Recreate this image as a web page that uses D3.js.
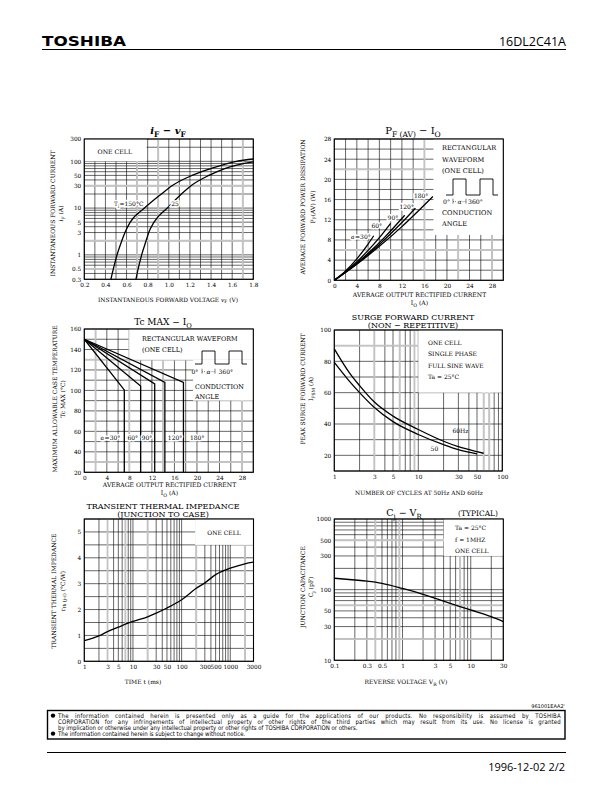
<!DOCTYPE html>
<html><head><meta charset="utf-8">
<script src="https://cdn.jsdelivr.net/npm/d3@7"></script>
<style>body{margin:0;background:#fff;}</style>
</head><body>
<script>
// ---------------- DATA ----------------
// Chart 1: iF - vF
const c1XTicks = [0.2, 0.4, 0.6, 0.8, 1.0, 1.2, 1.4, 1.6, 1.8];
const c1XLabels = ["0.2", "0.4", "0.6", "0.8", "1.0", "1.2", "1.4", "1.6", "1.8"];
const c1YTicks = [0.3, 0.5, 1, 3, 5, 10, 30, 50, 100, 300];
const c1V150 = [0.452, 0.475, 0.51, 0.555, 0.585, 0.635, 0.77, 0.93, 1.03, 1.22, 1.40, 1.64, 1.8];
const c1I150 = [0.3, 0.5, 1, 2, 3, 5, 10, 20, 30, 50, 70, 100, 112];
const c1V25 = [0.689, 0.71, 0.743, 0.785, 0.81, 0.86, 0.985, 1.12, 1.21, 1.38, 1.53, 1.8];
const c1I25 = [0.3, 0.5, 1, 2, 3, 5, 10, 20, 30, 50, 70, 97];

// Chart 2: PF(AV) - IO
const c2XTicks = [0, 4, 8, 12, 16, 20, 24, 28];
const c2YTicks = [0, 4, 8, 12, 16, 20, 24, 28];
const c2Labels = ["30°", "60°", "90°", "120°", "180°"];
const c2I30 = [0, 2, 4, 6, 7.0];
const c2P30 = [0, 1.86, 4.26, 7.18, 8.83];
const c2I60 = [0, 2, 4, 6, 8, 10];
const c2P60 = [0, 1.68, 3.66, 5.92, 8.46, 11.3];
const c2I90 = [0, 3, 6, 9, 12.5];
const c2P90 = [0, 2.48, 5.34, 8.61, 12.9];
const c2I120 = [0, 4, 8, 12, 14.4];
const c2P120 = [0, 3.29, 7.10, 11.45, 14.3];
const c2I180 = [0, 4, 8, 12, 17.5];
const c2P180 = [0, 3.18, 6.73, 10.64, 16.6];

// Chart 3: Tc MAX - IO
const c3XTicks = [0, 4, 8, 12, 16, 20, 24, 28];
const c3YTicks = [20, 40, 60, 80, 100, 120, 140, 160];
const c3Labels = ["30°", "60°", "90°", "120°", "180°"];
const c3I30 = [0, 7.1, 7.1];     const c3T30 = [150, 100.5, 20];
const c3I60 = [0, 10.0, 10.0];   const c3T60 = [150, 104.3, 20];
const c3I90 = [0, 12.5, 12.5];   const c3T90 = [150, 106.3, 20];
const c3I120 = [0, 14.3, 14.3];  const c3T120 = [150, 107.9, 20];
const c3I180 = [0, 17.6, 17.6];  const c3T180 = [150, 107.9, 20];

// Chart 4: surge forward current
const c4XTicks = [1, 3, 5, 10, 30, 50, 100];
const c4YTicks = [20, 40, 60, 80, 100];
const c4N60 = [1, 1.5, 2, 3, 5, 10, 20, 30, 50, 60];
const c4I60 = [88, 73, 64.5, 54, 45, 36.5, 29, 25.5, 22.3, 21.3];
const c4N50 = [1, 1.5, 2, 3, 5, 10, 20, 30, 50];
const c4I50 = [79.3, 67.5, 60, 50.5, 41.5, 33.3, 26.8, 23.6, 20.9];

// Chart 5: transient thermal impedance
const c5XTicks = [1, 3, 5, 10, 30, 50, 100, 300, 500, 1000, 3000];
const c5YTicks = [0, 1, 2, 3, 4, 5];
const c5T = [1, 2, 3, 5, 10, 20, 30, 50, 100, 200, 300, 500, 1000, 2000, 3000];
const c5R = [0.8, 0.98, 1.15, 1.32, 1.54, 1.72, 1.86, 2.06, 2.38, 2.82, 3.03, 3.35, 3.6, 3.77, 3.83];

// Chart 6: Cj - VR
const c6XTicks = [0.1, 0.3, 0.5, 1, 3, 5, 10, 30];
const c6YTicks = [10, 30, 50, 100, 300, 500, 1000];
const c6V = [0.1, 0.2, 0.3, 0.5, 1, 2, 3, 5, 10, 20, 30];
const c6C = [145, 137, 132, 123, 104, 86, 75.4, 64, 51.6, 41.5, 35.3];

// ---------------- DRAWING ----------------
const SERIF = "'DejaVu Serif','Liberation Serif',serif";
const SANS = "'Open Sans','DejaVu Sans',sans-serif";
const svg = d3.select("body").append("svg").attr("width", 612).attr("height", 792).style("display", "block");
svg.append("rect").attr("width", 612).attr("height", 792).attr("fill", "#fff");

function rich(parent, x, y, parts, size, anchor, family) {
  const t = parent.append("text").attr("x", x).attr("y", y)
    .attr("font-family", family || SERIF).attr("font-size", size)
    .attr("text-anchor", anchor || "start").attr("fill", "#000");
  let shifted = 0;
  parts.forEach(p => {
    const s = typeof p === "string" ? p : p[0];
    const m = typeof p === "string" ? "" : p[1];
    const ts = t.append("tspan").text(s);
    const sub = m.includes("s");
    const target = sub ? size * 0.3 : 0;
    if (target !== shifted) { ts.attr("dy", target - shifted); shifted = target; }
    if (sub) ts.attr("font-size", size * 0.75);
    if (m.includes("i")) ts.attr("font-style", "italic");
  });
  return t;
}
function vtext(cx, cy, parts, size) {
  const g = svg.append("g").attr("transform", `translate(${cx},${cy}) rotate(-90)`);
  return rich(g, 0, 0, parts, size, "middle");
}
function halo(t) { return t.attr("stroke", "#fff").attr("stroke-width", 3).attr("paint-order", "stroke"); }

function panel(c) {
  const x = (c.xlog ? d3.scaleLog() : d3.scaleLinear()).domain(c.xd).range([c.l, c.r]);
  const y = (c.ylog ? d3.scaleLog() : d3.scaleLinear()).domain(c.yd).range([c.b, c.t]);
  const g = svg.append("g");
  const vline = (sel, w, col) => sel.attr("x1", d => x(d)).attr("x2", d => x(d)).attr("y1", c.t).attr("y2", c.b).attr("stroke", col).attr("stroke-width", w);
  const hline = (sel, w, col) => sel.attr("y1", d => y(d)).attr("y2", d => y(d)).attr("x1", c.l).attr("x2", c.r).attr("stroke", col).attr("stroke-width", w);
  g.append("g").selectAll("line").data(c.xgrid).join("line").call(vline, 0.6, "#000");
  g.append("g").selectAll("line").data(c.ygrid).join("line").call(hline, 0.6, "#000");
  g.append("g").selectAll("line").data(c.xgray || []).join("line").call(vline, 1.8, "#c4c4c4");
  g.append("g").selectAll("line").data(c.ygray || []).join("line").call(hline, 1.8, "#c4c4c4");
  (c.boxes || []).forEach(bx => g.append("rect")
    .attr("x", x(bx[0])).attr("y", y(bx[3]))
    .attr("width", x(bx[1]) - x(bx[0])).attr("height", y(bx[2]) - y(bx[3])).attr("fill", "#fff"));
  g.append("rect").attr("x", c.l).attr("y", c.t).attr("width", c.r - c.l).attr("height", c.b - c.t)
    .attr("fill", "none").attr("stroke", "#000").attr("stroke-width", 1.1);
  const xa = g.append("g").attr("transform", `translate(0,${c.b})`)
    .call(d3.axisBottom(x).tickValues(c.xticks).tickSize(0).tickPadding(c.xpad ?? 3)
      .tickFormat((d, i) => c.xlabels ? c.xlabels[i] : String(d)));
  xa.select(".domain").remove();
  xa.selectAll("text").attr("font-family", SERIF).attr("font-size", 5.8).attr("fill", "#000");
  const ya = g.append("g").attr("transform", `translate(${c.l},0)`)
    .call(d3.axisLeft(y).tickValues(c.yticks).tickSize(0).tickPadding(c.ypad ?? 3)
      .tickFormat(d => String(d)));
  ya.select(".domain").remove();
  ya.selectAll("text").attr("font-family", SERIF).attr("font-size", 5.8).attr("fill", "#000");
  return { x, y, g };
}
function curve(p, xs, ys, type) {
  return p.g.append("path").datum(xs.map((v, i) => [v, ys[i]]))
    .attr("d", d3.line().x(d => p.x(d[0])).y(d => p.y(d[1])).curve(type || d3.curveMonotoneX))
    .attr("fill", "none").attr("stroke", "#000").attr("stroke-width", 1.3);
}
function waveform(g, x0, yb, h) {
  const pts = [[0, 0], [7, 0], [7, -h], [20, -h], [20, 0], [34, 0], [34, -h], [47, -h], [47, 0], [52, 0]];
  g.append("path").attr("d", d3.line()(pts.map(p => [x0 + p[0], yb + p[1]])))
    .attr("fill", "none").attr("stroke", "#000").attr("stroke-width", 0.9);
  return [x0 + 7, x0 + 20];
}
function alphaMark(g, xa, xb, yb, size) {
  const xm = (xa + xb) / 2;
  rich(g, xm, yb, [["α", "i"]], size, "middle");
  const yl = yb - size * 0.3;
  g.append("line").attr("x1", xa).attr("x2", xm - 3).attr("y1", yl).attr("y2", yl).attr("stroke", "#000").attr("stroke-width", 0.5).attr("stroke-dasharray", "1,1");
  g.append("line").attr("x1", xm + 3).attr("x2", xb).attr("y1", yl).attr("y2", yl).attr("stroke", "#000").attr("stroke-width", 0.5).attr("stroke-dasharray", "1,1");
  g.append("line").attr("x1", xa).attr("x2", xa).attr("y1", yl - 3).attr("y2", yl + 2).attr("stroke", "#000").attr("stroke-width", 0.5);
  g.append("line").attr("x1", xb).attr("x2", xb).attr("y1", yl - 3).attr("y2", yl + 2).attr("stroke", "#000").attr("stroke-width", 0.5);
}

// ---------- Header ----------
svg.append("text").attr("x", 42).attr("y", 46).attr("font-family", "'DejaVu Sans',sans-serif")
  .attr("font-weight", "bold").attr("font-size", 14).attr("textLength", 84).attr("lengthAdjust", "spacingAndGlyphs").text("TOSHIBA");
svg.append("text").attr("x", 566).attr("y", 46).attr("font-family", SANS).attr("font-size", 12.5)
  .attr("text-anchor", "end").text("16DL2C41A");
svg.append("line").attr("x1", 42).attr("x2", 566).attr("y1", 49.5).attr("y2", 49.5).attr("stroke", "#000").attr("stroke-width", 1);

// ---------- Chart 1 ----------
{
  const p = panel({
    l: 84.3, r: 253.3, t: 139, b: 279.3, xd: [0.2, 1.8], yd: [0.3, 300], ylog: true,
    xgrid: d3.range(2, 18.5, 1).map(v => v / 10),
    ygrid: d3.scaleLog().domain([0.3, 300]).ticks(),
    xgray: [0.7, 0.9, 1.7], ygray: [0.5, 2, 30],
    boxes: [[0.2, 0.79, 100, 300]],
    xticks: c1XTicks, xlabels: c1XLabels, yticks: c1YTicks, xpad: 3.5
  });
  curve(p, c1V150, c1I150);
  curve(p, c1V25, c1I25);
  rich(p.g, p.x(0.2) + 30.5, 154, ["ONE CELL"], 6.2, "middle");
  halo(rich(p.g, p.x(c1V150[6]) - 1, p.y(10) - 2.5, ["T", ["j", "s"], "=150°C"], 6, "end"));
  halo(rich(p.g, p.x(c1V25[6]) + 4, p.y(10) - 2.5, ["25"], 6, "start"));
  rich(svg, 168, 134, [["i", "i"], ["F", "s"], "  −  ", ["v", "i"], ["F", "s"]], 10, "middle").attr("font-weight", "bold");
  rich(svg, 168, 301.5, ["INSTANTANEOUS FORWARD VOLTAGE   ", ["v", "i"], ["F", "s"], "   (V)"], 5.9, "middle");
  vtext(54.5, 213.5, ["INSTANTANEOUS FORWARD CURRENT"], 6);
  vtext(63, 213.5, [["i", "i"], ["F", "s"], "   (A)"], 6);
}

// ---------- Chart 2 ----------
{
  const p = panel({
    l: 334.3, r: 503.3, t: 139, b: 280.3, xd: [0, 30], yd: [0, 28],
    xgrid: d3.range(0, 30.1, 2), ygrid: d3.range(0, 28.1, 2),
    xgray: [16, 22, 28], ygray: [22, 6],
    boxes: [[17.6, 30, 9, 28]],
    xticks: c2XTicks, yticks: c2YTicks, xpad: 4
  });
  const Is = [c2I30, c2I60, c2I90, c2I120, c2I180], Ps = [c2P30, c2P60, c2P90, c2P120, c2P180];
  Is.forEach((xs, k) => curve(p, xs, Ps[k]));
  const off = [[-3, 3], [-8.5, 5], [-6.5, 4.3], [-1.5, 1.3], [-4.5, 1.7]];
  Is.forEach((xs, k) => {
    const ex = p.x(xs[xs.length - 1]), ey = p.y(Ps[k][Ps[k].length - 1]);
    const parts = k === 0 ? [["α", "i"], "=" + c2Labels[k]] : [c2Labels[k]];
    halo(rich(p.g, ex + off[k][0], ey + off[k][1], parts, 6, "end"));
  });
  const lx = 442;
  rich(p.g, lx, 150, ["RECTANGULAR"], 6.6);
  rich(p.g, lx, 161.5, ["WAVEFORM"], 6.6);
  rich(p.g, lx, 173, ["(ONE CELL)"], 6.6);
  const [xa, xb] = waveform(p.g, 446, 195, 16);
  rich(p.g, 443, 203.5, ["0°"], 6.2);
  alphaMark(p.g, xa, xb, 203.5, 6.2);
  rich(p.g, 468, 203.5, ["360°"], 6.2);
  rich(p.g, lx, 214.5, ["CONDUCTION"], 6.6);
  rich(p.g, lx, 225.5, ["ANGLE"], 6.6);
  rich(svg, 413, 134, ["P", ["F (AV)", "s"], "  −  I", ["O", "s"]], 10, "middle");
  rich(svg, 419.5, 296.5, ["AVERAGE OUTPUT RECTIFIED CURRENT"], 6.1, "middle");
  rich(svg, 419.5, 305, ["I", ["O", "s"], "   (A)"], 6.1, "middle");
  vtext(305, 207, ["AVERAGE FORWARD POWER DISSIPATION"], 6);
  vtext(314.5, 207, ["P", ["F", "s"], "(AV)    (W)"], 6);
}

// ---------- Chart 3 ----------
{
  const p = panel({
    l: 84.3, r: 253.3, t: 329, b: 472.3, xd: [0, 30], yd: [20, 160],
    xgrid: d3.range(0, 30.1, 2), ygrid: d3.range(20, 160.1, 10),
    xgray: [2, 8, 14, 28], ygray: [130, 30],
    boxes: [[8, 30, 130, 160], [19.3, 30, 90, 130]],
    xticks: c3XTicks, yticks: c3YTicks, xpad: 4
  });
  const Is = [c3I30, c3I60, c3I90, c3I120, c3I180], Ts = [c3T30, c3T60, c3T90, c3T120, c3T180];
  Is.forEach((xs, k) => curve(p, xs, Ts[k], d3.curveLinear));
  const off = [[-4, "end"], [-2.5, "end"], [-2.5, "end"], [3, "start"], [6.5, "start"]];
  Is.forEach((xs, k) => {
    const parts = k === 0 ? [["α", "i"], "=" + c3Labels[k]] : [c3Labels[k]];
    halo(rich(p.g, p.x(xs[1]) + off[k][0], 439.5, parts, 6, off[k][1]));
  });
  rich(p.g, 142, 340.5, ["RECTANGULAR WAVEFORM"], 6.4);
  rich(p.g, 142, 352, ["(ONE CELL)"], 6.4);
  const [xa, xb] = waveform(p.g, 195, 364, 13);
  rich(p.g, 191.5, 373.5, ["0°"], 6);
  alphaMark(p.g, xa, xb, 373.5, 6);
  rich(p.g, 218.5, 373.5, ["360°"], 6);
  rich(p.g, 195, 388.5, ["CONDUCTION"], 6.4);
  rich(p.g, 195, 398.5, ["ANGLE"], 6.4);
  rich(svg, 163, 325, ["Tc MAX  −  I", ["O", "s"]], 9, "middle");
  rich(svg, 169.5, 486.5, ["AVERAGE OUTPUT RECTIFIED CURRENT"], 6.1, "middle");
  rich(svg, 169.5, 495, ["I", ["O", "s"], "   (A)"], 6.1, "middle");
  vtext(57, 399, ["MAXIMUM ALLOWABLE CASE TEMPERATURE"], 6);
  vtext(65, 399, ["Tc MAX   (°C)"], 6);
}

// ---------- Chart 4 ----------
{
  const p = panel({
    l: 334.3, r: 502.3, t: 330, b: 471, xd: [1, 100], xlog: true, yd: [10, 100],
    xgrid: d3.scaleLog().domain([1, 100]).ticks(), ygrid: d3.range(10, 100.1, 10),
    xgray: [3, 6, 9, 60, 70], ygray: [90],
    boxes: [[10, 100, 60, 100]],
    xticks: c4XTicks, yticks: c4YTicks, xpad: 3.5
  });
  curve(p, c4N60, c4I60);
  curve(p, c4N50, c4I50);
  rich(p.g, 428, 344.5, ["ONE CELL"], 6);
  rich(p.g, 428, 356, ["SINGLE PHASE"], 6);
  rich(p.g, 428, 368, ["FULL SINE WAVE"], 6);
  rich(p.g, 428, 379, ["Ta = 25°C"], 6);
  rich(p.g, p.x(30) - 6, 433, ["60Hz"], 6);
  rich(p.g, p.x(14), 450.5, ["50"], 6);
  rich(svg, 413, 320, ["SURGE FORWARD CURRENT"], 8, "middle");
  rich(svg, 413, 328, ["(NON  −  REPETITIVE)"], 8, "middle");
  rich(svg, 419, 495, ["NUMBER OF CYCLES AT 50Hz AND 60Hz"], 5.9, "middle");
  vtext(305, 389, ["PEAK SURGE FORWARD CURRENT"], 6);
  vtext(313, 389, ["I", ["FSM", "s"], "   (A)"], 6);
}

// ---------- Chart 5 ----------
{
  const p = panel({
    l: 84.3, r: 253.5, t: 519, b: 661.3, xd: [1, 3000], xlog: true, yd: [0, 5.5],
    xgrid: d3.scaleLog().domain([1, 3000]).ticks(), ygrid: d3.range(0, 5.51, 0.5),
    xgray: [3, 7, 20, 200, 2000],
    boxes: [[190, 3000, 4.5, 5.5]],
    xticks: c5XTicks, yticks: c5YTicks, xpad: 3.5
  });
  curve(p, c5T, c5R);
  rich(p.g, 224, 534.5, ["ONE CELL"], 6, "middle");
  rich(svg, 163, 509, ["TRANSIENT THERMAL IMPEDANCE"], 8, "middle");
  rich(svg, 163, 517, ["(JUNCTION  TO  CASE)"], 8, "middle");
  rich(svg, 143, 684, ["TIME   t    (ms)"], 6, "middle");
  vtext(56, 591, ["TRANSIENT THERMAL IMPEDANCE"], 6);
  vtext(64.5, 591, ["r", ["th (j-c)", "s"], "   (°C/W)"], 6);
}

// ---------- Chart 6 ----------
{
  const p = panel({
    l: 334.3, r: 503.3, t: 519, b: 660.3, xd: [0.1, 30], xlog: true, yd: [10, 1000], ylog: true,
    xgrid: d3.scaleLog().domain([0.1, 30]).ticks(), ygrid: d3.scaleLog().domain([10, 1000]).ticks(),
    xgray: [0.4, 0.9, 7], ygray: [500, 60, 20],
    boxes: [[4, 30, 300, 1000]],
    xticks: c6XTicks, yticks: c6YTicks, xpad: 3.5
  });
  curve(p, c6V, c6C);
  rich(p.g, 455, 529.5, ["Ta = 25°C"], 6);
  rich(p.g, 455, 541.5, ["f = 1MHZ"], 6);
  rich(p.g, 455, 552.5, ["ONE CELL"], 6);
  rich(svg, 404, 516, ["C", ["j", "s"], "  −  V", ["R", "s"]], 9.5, "middle");
  rich(svg, 478, 516, ["(TYPICAL)"], 7.5, "middle");
  rich(svg, 406, 684, ["REVERSE VOLTAGE   V", ["R", "s"], "   (V)"], 6, "middle");
  vtext(305, 587, ["JUNCTION CAPACITANCE"], 6);
  vtext(313, 587, ["C", ["j", "s"], "   (pF)"], 6);
}

// ---------- Footer ----------
{
  const F = "'DejaVu Sans','Liberation Sans',sans-serif";
  const FS = 6.3;
  svg.append("text").attr("x", 565).attr("y", 708).attr("font-family", F).attr("font-size", 5)
    .attr("text-anchor", "end").text("961001EAA2'");
  svg.append("rect").attr("x", 47.5).attr("y", 710.5).attr("width", 517.5).attr("height", 28.5)
    .attr("fill", "none").attr("stroke", "#000").attr("stroke-width", 1.4);
  const lines = [
    ["The information contained herein is presented only as a guide for the applications of our products. No responsibility is assumed by TOSHIBA", true, true],
    ["CORPORATION for any infringements of intellectual property or other rights of the third parties which may result from its use. No license is granted", true, false],
    ["by implication or otherwise under any intellectual property or other rights of TOSHIBA CORPORATION or others.", false, false],
    ["The information contained herein is subject to change without notice.", false, true]
  ];
  // horizontal compression so the unjustified third line spans its width in the reference
  const probe = svg.append("text").attr("font-family", F).attr("font-size", FS).text(lines[2][0]);
  const sx = 300 / probe.node().getComputedTextLength();
  probe.remove();
  const fg = svg.append("g").attr("transform", `translate(58,0) scale(${sx},1)`);
  lines.forEach((ln, i) => {
    const yb = 717.6 + i * 6;
    const t = fg.append("text").attr("x", 0).attr("y", yb).attr("font-family", F).attr("font-size", FS).text(ln[0]);
    if (ln[1]) {
      const w = t.node().getComputedTextLength();
      const target = 503 / sx;
      if (w < target) {
        const n = (ln[0].match(/ /g) || []).length;
        const extra = target - w;
        // spread the extra width partly between letters, mostly between words
        const ls = extra * 0.3 / ln[0].length;
        t.attr("letter-spacing", ls).attr("word-spacing", extra * 0.7 / n);
      } else {
        t.attr("textLength", target).attr("lengthAdjust", "spacingAndGlyphs");
      }
    }
    if (ln[2]) svg.append("circle").attr("cx", 53).attr("cy", yb - 2).attr("r", 2.2).attr("fill", "#000");
  });
  svg.append("line").attr("x1", 47).attr("x2", 566).attr("y1", 752.5).attr("y2", 752.5).attr("stroke", "#000").attr("stroke-width", 1);
  svg.append("text").attr("x", 565).attr("y", 771).attr("font-family", SANS).attr("font-size", 11)
    .attr("text-anchor", "end").text("1996-12-02   2/2");
}
</script>
</body></html>
